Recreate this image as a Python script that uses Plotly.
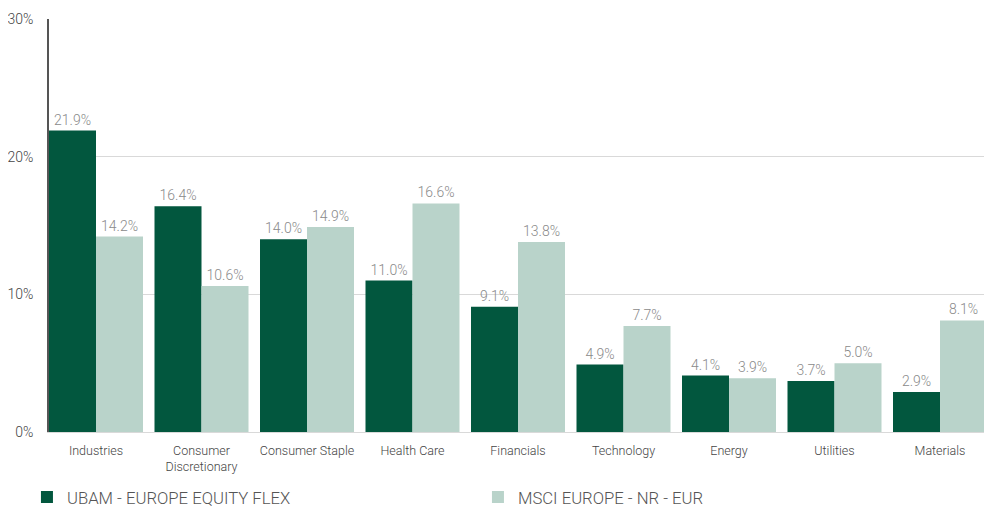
import plotly.graph_objects as go

categories = ["Industries", "Consumer<br>Discretionary", "Consumer Staple", "Health Care",
              "Financials", "Technology", "Energy", "Utilities", "Materials"]
ubam = [21.9, 16.4, 14.0, 11.0, 9.1, 4.9, 4.1, 3.7, 2.9]
msci = [14.2, 10.6, 14.9, 16.6, 13.8, 7.7, 3.9, 5.0, 8.1]
series_names = ["UBAM - EUROPE EQUITY FLEX", "MSCI EUROPE - NR - EUR"]
tick_vals = [0, 10, 20, 30]
tick_text = ["0%", "10%", "20%", "30%"]

FONT = "Roboto, Liberation Sans, Arial, sans-serif"
BARGAP = 0.109
half = (1 - BARGAP) / 2

fig = go.Figure()
for name, vals, col in [(series_names[0], ubam, "#02573E"), (series_names[1], msci, "#B9D3CA")]:
    fig.add_trace(go.Bar(
        x=categories, y=vals, name=name, marker=dict(color=col, line=dict(width=0)),
        text=[f"{v:.1f}%" for v in vals], textposition="outside",
        textfont=dict(color="#8a8a8a", size=14, family=FONT, weight=300), cliponaxis=False,
    ))

# page body has an 8px margin, so size the figure to fit the 992x508 window
fig.update_layout(
    width=984, height=500,
    margin=dict(l=41, r=5, t=11, b=76, autoexpand=False),
    barmode="group", bargap=BARGAP, bargroupgap=0,
    plot_bgcolor="white", paper_bgcolor="white",
    font=dict(family=FONT, color="#444", size=14, weight=300),
    showlegend=True,
    legend=dict(orientation="h", x=-0.0235, y=-0.158, yanchor="middle", xanchor="left",
                font=dict(size=16.7, color="#555", family=FONT, weight=300),
                entrywidth=406, entrywidthmode="pixels", itemsizing="constant"),
    xaxis=dict(showgrid=False, showline=True, linecolor="#d9d9d9", linewidth=1,
               range=[-half, len(categories) - 1 + half],
               ticks="", ticklabelstandoff=7,
               tickfont=dict(size=12.5, color="#444", family=FONT, weight=300)),
    yaxis=dict(range=[0, 30], tickvals=tick_vals, ticktext=tick_text,
               showgrid=True, gridcolor="#d9d9d9", gridwidth=1,
               showline=True, linecolor="#555", linewidth=1.5, zeroline=False,
               ticks="", tickfont=dict(size=14, color="#444", family=FONT, weight=300),
               ticklabelstandoff=11),
)
fig.write_html("out.html")
